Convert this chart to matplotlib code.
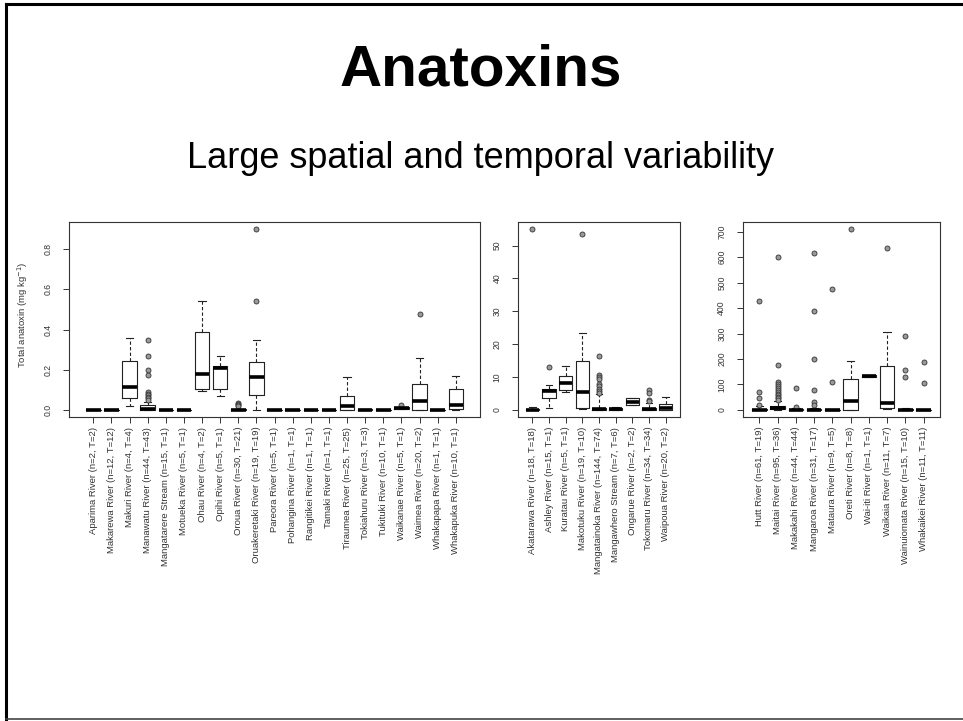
import matplotlib
matplotlib.use("Agg")
import matplotlib.pyplot as plt
from matplotlib.lines import Line2D

plt.rcParams['font.family'] = ['Liberation Sans', 'DejaVu Sans']

# ---- panel 1 data (mg/kg) ----
p1_names = ['Aparima River', 'Makarewa River', 'Makuri River', 'Manawatu River',
            'Mangatarere Stream', 'Motueka River', 'Ohau River', 'Opihi River',
            'Oroua River', 'Oruakeretaki River', 'Pareora River', 'Pohangina River',
            'Rangitikei River', 'Tamaki River', 'Tiraumea River', 'Tokiahuru River',
            'Tukituki River', 'Waikanae River', 'Waimea River', 'Whakapapa River',
            'Whakapuka River']
p1_n = [2, 12, 4, 44, 15, 5, 4, 5, 30, 19, 5, 1, 1, 1, 25, 3, 10, 5, 20, 1, 10]
p1_t = [2, 12, 4, 43, 1, 1, 2, 1, 21, 19, 1, 1, 1, 1, 25, 3, 1, 1, 2, 1, 1]
p1_q1 = [0, 0, 0.057, 0, 0, 0, 0.103, 0.103, 0, 0.075, 0, 0, 0, 0, 0, 0, 0, 0.003, 0, 0, 0.005]
p1_med = [0, 0, 0.115, 0.003, 0, 0, 0.178, 0.21, 0, 0.162, 0, 0, 0, 0, 0.017, 0.001, 0, 0.008, 0.045, 0, 0.025]
p1_q3 = [0, 0, 0.242, 0.023, 0, 0, 0.388, 0.217, 0.003, 0.24, 0, 0, 0, 0, 0.07, 0.005, 0, 0.012, 0.13, 0, 0.103]
p1_lo = [0, 0, 0.017, 0, 0, 0, 0.092, 0.067, 0, 0, 0, 0, 0, 0, 0, 0, 0, 0.002, 0, 0, 0]
p1_hi = [0, 0, 0.358, 0.04, 0, 0, 0.543, 0.267, 0.005, 0.35, 0, 0, 0, 0, 0.165, 0.006, 0, 0.014, 0.258, 0, 0.17]
p1_fl = [[], [], [], [0.35, 0.27, 0.2, 0.175, 0.09, 0.08, 0.072, 0.065, 0.057, 0.05],
         [], [], [], [], [0.035, 0.03, 0.025, 0.02], [0.9, 0.543],
         [], [], [], [], [], [], [], [0.025], [0.475], [], []]

# ---- panel 2 data ----
p2_names = ['Akatarawa River', 'Ashley River', 'Kuratau River', 'Makotuku River',
            'Mangatainoka River', 'Mangawhero Stream', 'Ongarue River',
            'Tokomaru River', 'Waipoua River']
p2_n = [18, 15, 5, 19, 144, 7, 2, 34, 20]
p2_t = [18, 1, 1, 10, 74, 6, 2, 34, 2]
p2_q1 = [0, 3.6, 6.1, 0.5, 0, 0, 1.5, 0, 0]
p2_med = [0, 5.6, 8.3, 5.3, 0.2, 0.2, 2.5, 0.2, 0.6]
p2_q3 = [0.3, 6.2, 10.2, 15.0, 0.6, 0.5, 3.6, 0.5, 1.8]
p2_lo = [0, 0.7, 5.5, 0.3, 0, 0, 1.5, 0, 0]
p2_hi = [0.8, 7.6, 13.3, 23.5, 4.7, 0.8, 3.6, 2.0, 4.0]
p2_fl = [[55.0], [12.9], [], [53.4],
         [16.5, 10.5, 10.0, 9.3, 8.0, 7.2, 6.3, 5.6, 5.1], [], [],
         [6.0, 5.2, 3.0, 2.6], []]

# ---- panel 3 data ----
p3_names = ['Hutt River', 'Maitai River', 'Makakahi River', 'Mangaroa River',
            'Mataura River', 'Oreti River', 'Wai-iti River', 'Waikaia River',
            'Wainuiomata River', 'Whakaikei River']
p3_n = [61, 95, 44, 31, 9, 8, 1, 11, 15, 11]
p3_t = [19, 36, 44, 17, 5, 8, 1, 7, 10, 11]
p3_q1 = [0, 5, 0, 0, 0, 0, 130, 8, 0, 0]
p3_med = [1, 9, 1, 0, 0, 34, 133, 25, 0, 0]
p3_q3 = [4, 14, 3, 3, 0, 120, 137, 173, 3, 0]
p3_lo = [0, 0, 0, 0, 0, 0, 130, 5, 0, 0]
p3_hi = [15, 35, 8, 6, 0, 190, 137, 305, 6, 0]
p3_fl = [[426, 70, 45, 20], [600, 177, 110, 100, 92, 85, 77, 70, 63, 57, 50, 45, 40],
         [85, 12], [617, 390, 200, 77, 30, 20], [473, 108], [710], [], [635],
         [292, 155, 130], [187, 107]]

panels = [
    (p1_names, p1_n, p1_t, p1_q1, p1_med, p1_q3, p1_lo, p1_hi, p1_fl),
    (p2_names, p2_n, p2_t, p2_q1, p2_med, p2_q3, p2_lo, p2_hi, p2_fl),
    (p3_names, p3_n, p3_t, p3_q1, p3_med, p3_q3, p3_lo, p3_hi, p3_fl),
]
p_ylim = [(-0.036, 0.936), (-2.2, 57.2), (-28.4, 738.4)]
p_yticks = [[0.0, 0.2, 0.4, 0.6, 0.8], [0, 10, 20, 30, 40, 50],
            [0, 100, 200, 300, 400, 500, 600, 700]]
p_yfmt = ['{:.1f}', '{:d}', '{:d}']
p_rect = [[0.0717, 0.4216, 0.4268, 0.2705],
          [0.538, 0.4216, 0.168, 0.2705],
          [0.7715, 0.4216, 0.2046, 0.2705]]

fig = plt.figure(figsize=(9.63, 7.21), dpi=100)
ink = '#222222'

for k, (names, n, t, q1, med, q3, lo, hi, fl) in enumerate(panels):
    ax = fig.add_axes(p_rect[k])
    stats = []
    for i in range(len(names)):
        stats.append(dict(med=med[i], q1=q1[i], q3=q3[i], whislo=lo[i],
                          whishi=hi[i], fliers=fl[i]))
    pos = list(range(1, len(names) + 1))
    ax.bxp(stats, positions=pos, widths=0.8, showfliers=True,
           boxprops=dict(color=ink, lw=0.8),
           medianprops=dict(color='black', lw=2.6, solid_capstyle='butt'),
           whiskerprops=dict(color=ink, lw=0.8, linestyle=(0, (3, 2))),
           capprops=dict(color=ink, lw=0.8),
           capwidths=0.4,
           flierprops=dict(marker='o', markersize=3.6, markerfacecolor='#9a9a9a',
                           markeredgecolor='#333333', markeredgewidth=0.6))
    n_box = len(names)
    ax.set_xlim(0.5 - 0.04 * n_box, n_box + 0.5 + 0.04 * n_box)
    ax.set_ylim(*p_ylim[k])
    labels = [f'{nm} (n={a}, T={b})' for nm, a, b in zip(names, n, t)]
    ax.set_xticks(pos)
    ax.set_xticklabels(labels, rotation=90, fontsize=6.8, color='#333333')
    ax.set_yticks(p_yticks[k])
    ax.set_yticklabels([p_yfmt[k].format(v) for v in p_yticks[k]],
                       rotation=90, va='center', fontsize=6.2, color='#333333')
    ax.tick_params(axis='x', length=4, width=0.7, pad=3, color='#333333')
    ax.tick_params(axis='y', length=4, width=0.7, pad=8, color='#333333')
    for sp in ax.spines.values():
        sp.set_linewidth(0.8)
        sp.set_color('#333333')

fig.text(23 / 963, 1 - 315 / 721, 'Total anatoxin (mg kg$^{-1}$)', rotation=90,
         ha='center', va='center', fontsize=6.8, color='#333333')

# slide titles
fig.text(0.4995, 1 - 85 / 721, 'Anatoxins', ha='center', va='baseline',
         fontsize=42, fontweight='bold')
fig.text(0.4995, 1 - 168 / 721, 'Large spatial and temporal variability',
         ha='center', va='baseline', fontsize=26)

# slide frame
fig.add_artist(Line2D([6 / 963, 6 / 963], [1 - 4 / 721, 1 - 719 / 721],
                      transform=fig.transFigure, color='black', lw=2.2))
fig.add_artist(Line2D([6 / 963, 1.0], [1 - 4 / 721, 1 - 4 / 721],
                      transform=fig.transFigure, color='black', lw=2.2))
fig.add_artist(Line2D([6 / 963, 1.0], [1 - 719 / 721, 1 - 719 / 721],
                      transform=fig.transFigure, color='#444444', lw=1.2))

fig.savefig('out.png', dpi=100)
